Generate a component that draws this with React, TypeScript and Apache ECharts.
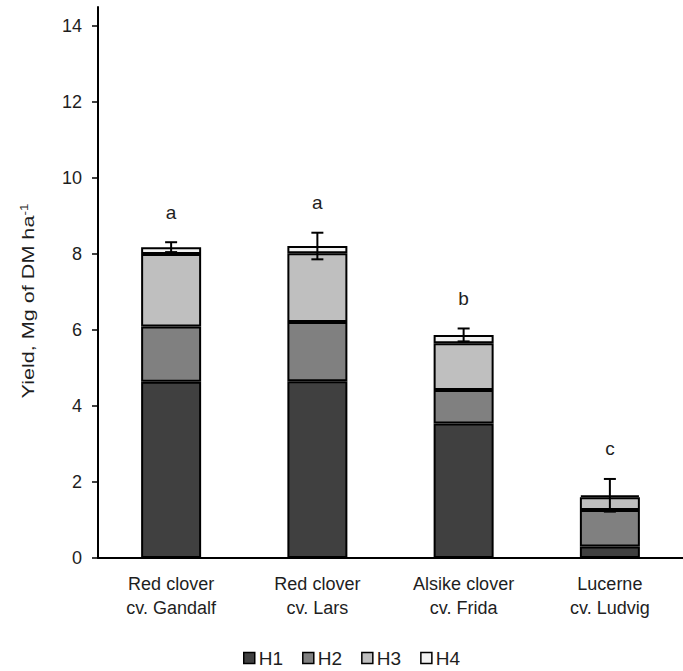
import React, { useEffect, useRef } from "react";
import * as echarts from "echarts";

const categories = ["Red clover\ncv. Gandalf", "Red clover\ncv. Lars", "Alsike clover\ncv. Frida", "Lucerne\ncv. Ludvig"];
const seriesNames = ["H1", "H2", "H3", "H4"];
const h1 = [4.64, 4.65, 3.54, 0.30];
const h2 = [1.45, 1.56, 0.88, 0.96];
const h3 = [1.91, 1.81, 1.23, 0.34];
const h4 = [0.18, 0.19, 0.22, 0.05];
const errors = [0.13, 0.35, 0.17, 0.43];
const letters = ["a", "a", "b", "c"];
const yTicks = [0, 2, 4, 6, 8, 10, 12, 14];
const colors = ["#404040", "#808080", "#bfbfbf", "#f2f2f2"];

const FONT = "'Liberation Sans', Arial, sans-serif";
const TEXT = "#1e1e1e";

export default function App() {
  const ref = useRef<HTMLDivElement>(null);
  useEffect(() => {
    document.body.style.margin = "0";
    if (!ref.current) return;
    const chart = echarts.init(ref.current, undefined, { renderer: "svg" });
    const stacks = [h1, h2, h3, h4];
    const totals = categories.map((_, i) => stacks.reduce((s, a) => s + a[i], 0));
    const errData = categories.map((_, i) => [i, totals[i], errors[i], letters[i]]);

    const barSeries = stacks.map((d, k) => ({
      name: seriesNames[k],
      type: "bar",
      stack: "total",
      data: d,
      barWidth: 60,
      itemStyle: { color: colors[k], borderColor: "#000", borderWidth: 2 },
    }));

    chart.setOption({
      animation: false,
      textStyle: { fontFamily: FONT },
      grid: { left: 98, right: -7, top: 7, bottom: 113, containLabel: false },
      legend: {
        data: seriesNames,
        left: 243,
        top: 648,
        padding: 0,
        icon: "rect",
        itemWidth: 11,
        itemHeight: 11,
        itemGap: 19,
        textStyle: { fontSize: 19, lineHeight: 20, color: TEXT, fontFamily: FONT, padding: [0, 0, 0, -1] },
        itemStyle: { borderColor: "#000", borderWidth: 1.5 },
      },
      xAxis: {
        type: "category",
        data: categories,
        axisLine: { lineStyle: { color: "#000", width: 2 } },
        axisTick: { show: false },
        axisLabel: { fontSize: 18, color: TEXT, lineHeight: 24, margin: 14, fontFamily: FONT },
      },
      yAxis: {
        type: "value",
        min: 0,
        max: 14.5,
        interval: 2,
        splitLine: { show: false },
        axisLine: { show: true, lineStyle: { color: "#000", width: 2 } },
        axisTick: { show: true, length: 6, lineStyle: { color: "#000", width: 1.5 }, customValues: yTicks },
        axisLabel: {
          fontSize: 18,
          color: TEXT,
          margin: 16,
          fontFamily: FONT,
          customValues: yTicks,
          formatter: (v: number) => (v % 2 === 0 ? String(v) : ""),
        },
      },
      graphic: [
        {
          type: "text",
          x: 29,
          y: 301,
          rotation: Math.PI / 2,
          scaleX: 1.35,
          style: {
            text: "{a|Yield, Mg of DM ha}{s|-1}",
            align: "center",
            verticalAlign: "middle",
            fill: TEXT,
            rich: {
              a: { fontSize: 16, fontFamily: FONT, fill: TEXT },
              s: { fontSize: 10, fontFamily: FONT, fill: TEXT, verticalAlign: "top", padding: [0, 0, 8, 0] },
            },
          },
        },
      ],
      series: [
        ...barSeries,
        {
          type: "custom",
          z: 10,
          data: errData,
          renderItem: (params: any, api: any) => {
            const x = api.value(0);
            const v = api.value(1);
            const e = api.value(2);
            const letter = letters[params.dataIndex];
            const top = api.coord([x, v + e]);
            const bot = api.coord([x, v - e]);
            const cx = top[0];
            const hw = 6;
            const ls = { stroke: "#000", lineWidth: 2 };
            return {
              type: "group",
              children: [
                { type: "line", shape: { x1: cx, y1: top[1], x2: cx, y2: bot[1] }, style: ls },
                { type: "line", shape: { x1: cx - hw, y1: top[1], x2: cx + hw, y2: top[1] }, style: ls },
                { type: "line", shape: { x1: cx - hw, y1: bot[1], x2: cx + hw, y2: bot[1] }, style: ls },
                {
                  type: "text",
                  x: cx,
                  y: top[1] - 30,
                  style: {
                    text: letter,
                    align: "center",
                    verticalAlign: "middle",
                    fontSize: 19,
                    fontFamily: FONT,
                    fill: TEXT,
                  },
                },
              ],
            };
          },
        },
      ],
    });
    return () => chart.dispose();
  }, []);
  return <div ref={ref} style={{ width: 683, height: 671 }} />;
}
